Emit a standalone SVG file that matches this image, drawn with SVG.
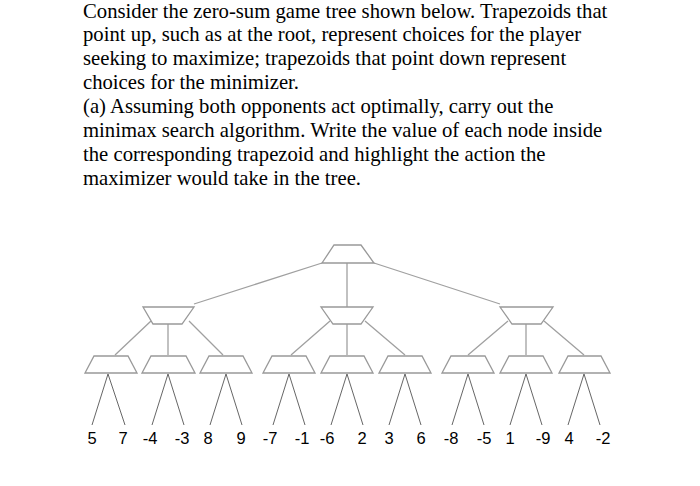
<svg xmlns="http://www.w3.org/2000/svg" width="700" height="486" viewBox="0 0 700 486">
<style>
.t{font-family:"Liberation Serif","Times New Roman",serif;font-size:20.7px;fill:#000}
.n{fill:#fff;stroke:#999;stroke-width:1.3}
.e{stroke:#a0a0a0;stroke-width:1.3;fill:none}
.l{stroke:#555;stroke-width:0.9;fill:none}
.v{font-family:"Liberation Sans",Arial,sans-serif;font-size:16.5px;fill:#000;text-anchor:middle}
</style>
<rect width="700" height="486" fill="#fff"/>
<g id="text">
<text class="t" x="83" y="18">Consider the zero-sum game tree shown below. Trapezoids that</text>
<text class="t" x="83" y="41">point up, such as at the root, represent choices for the player</text>
<text class="t" x="83" y="65">seeking to maximize; trapezoids that point down represent</text>
<text class="t" x="83" y="89">choices for the minimizer.</text>
<text class="t" x="83" y="113">(a) Assuming both opponents act optimally, carry out the</text>
<text class="t" x="83" y="137">minimax search algorithm. Write the value of each node inside</text>
<text class="t" x="83" y="161">the corresponding trapezoid and highlight the action the</text>
<text class="t" x="83" y="185">maximizer would take in the tree.</text>
</g>
<g id="connectors">
<path class="e" d="M322 263L194 304M347 263V307M374 263L500 304"/>
<path class="e" d="M151 321L115 355M168 324V355M189 321L223 355"/>
<path class="e" d="M330 321L291 355M347 324V355M365 321L405 355"/>
<path class="e" d="M508 321L468 355M526 324V355M544 321L584 355"/>
<path class="l" d="M108 374L92 425M108 374L125 425M168 374L152 425M168 374L184 425M226 374L210 425M226 374L242 425M289 374L273 425M289 374L305 425M347 374L331 425M347 374L363 425M405 374L389 425M405 374L421 425M468 374L452 425M468 374L484 425M526 374L510 425M526 374L542 425M584 374L568 425M584 374L600 425"/>
</g>
<g id="root"><path class="n" d="M334 245H361L374 263H322Z"/></g>
<g id="min1"><path class="n" d="M143 307H194L182 324H153Z"/></g>
<g id="min2"><path class="n" d="M321 307H373L361 324H333Z"/></g>
<g id="min3"><path class="n" d="M500 307H553L541 324H512Z"/></g>
<g id="max1"><path class="n" d="M94 356H128L137 373H85Z"/></g>
<g id="max2"><path class="n" d="M151 356H186L195 373H142Z"/></g>
<g id="max3"><path class="n" d="M209 356H243L252 373H200Z"/></g>
<g id="max4"><path class="n" d="M272 356H306L315 373H263Z"/></g>
<g id="max5"><path class="n" d="M330 356H364L373 373H321Z"/></g>
<g id="max6"><path class="n" d="M388 356H422L431 373H379Z"/></g>
<g id="max7"><path class="n" d="M451 356H485L494 373H442Z"/></g>
<g id="max8"><path class="n" d="M509 356H543L552 373H500Z"/></g>
<g id="max9"><path class="n" d="M568 356H601L610 373H559Z"/></g>
<g id="leaves">
<text class="v" x="92" y="444">5</text><text class="v" x="123" y="444">7</text>
<text class="v" x="150" y="444">-4</text><text class="v" x="182" y="444">-3</text>
<text class="v" x="208" y="444">8</text><text class="v" x="241" y="444">9</text>
<text class="v" x="270" y="444">-7</text><text class="v" x="302" y="444">-1</text>
<text class="v" x="327" y="444">-6</text><text class="v" x="362" y="444">2</text>
<text class="v" x="389" y="444">3</text><text class="v" x="421" y="444">6</text>
<text class="v" x="451" y="444">-8</text><text class="v" x="484" y="444">-5</text>
<text class="v" x="510" y="444">1</text><text class="v" x="543" y="444">-9</text>
<text class="v" x="569" y="444">4</text><text class="v" x="603" y="444">-2</text>
</g>
</svg>
